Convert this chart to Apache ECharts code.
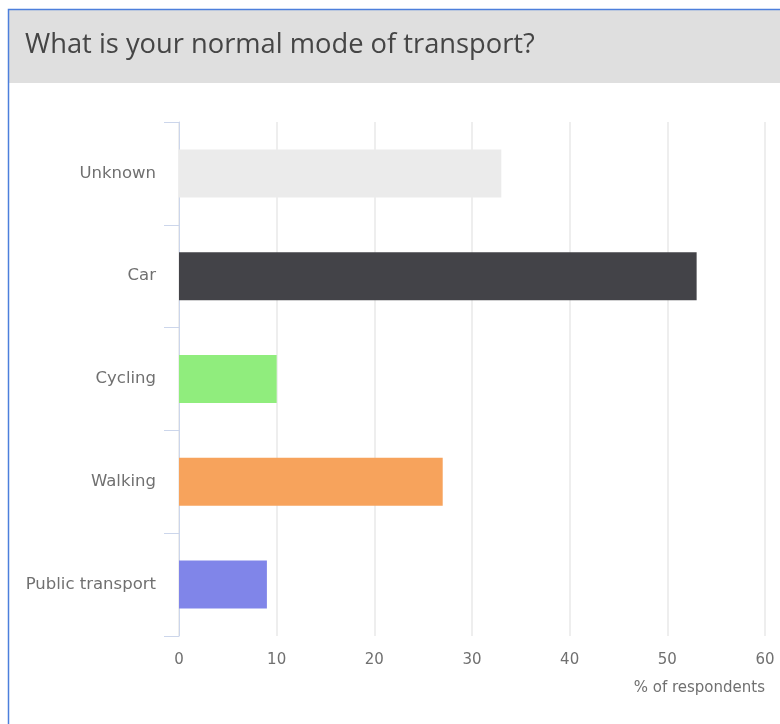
<!DOCTYPE html>
<html>
<head>
<meta charset="utf-8">
<style>
  html, body { margin: 0; padding: 0; background: #ffffff; }
  #chart { width: 780px; height: 724px; }
</style>
<script src="https://cdn.jsdelivr.net/npm/echarts@6/dist/echarts.min.js"></script>
</head>
<body>
<div id="chart"></div>
<script>
const titleText = 'What is your normal mode of transport?';
const categories = ['Unknown', 'Car', 'Cycling', 'Walking', 'Public transport'];
const values = [33, 53, 10, 27, 9];
const barColors = ['#ebebeb', '#434348', '#90ed7d', '#f7a35c', '#8085e9'];
const axisName = '% of respondents';
const xMin = 0, xMax = 60, xStep = 10;

const chart = echarts.init(document.getElementById('chart'));
const option = {
  animation: false,
  backgroundColor: '#ffffff',
  graphic: [
    { type: 'rect', shape: { x: 9, y: 10, width: 771, height: 73 }, style: { fill: '#dfdfdf' }, z: 0 },
    { type: 'rect', shape: { x: 8.5, y: 9.5, width: 800, height: 800 }, style: { fill: 'none', stroke: '#4d7fdc', lineWidth: 1.5 }, z: 1 },
    { type: 'text', left: 25, top: 32, style: { text: titleText, fill: '#454545', font: '27.3px "Open Sans"', textVerticalAlign: 'top' }, z: 2 }
  ],
  grid: { left: 179, right: 15, top: 122, bottom: 88, containLabel: false },
  xAxis: {
    type: 'value', min: xMin, max: xMax, interval: xStep,
    axisLine: { show: false }, axisTick: { show: false },
    splitLine: { show: true, lineStyle: { color: '#e8e8e8', width: 1.5 } },
    axisLabel: { color: '#707070', fontFamily: 'DejaVu Sans', fontSize: 15, margin: 17 },
    name: axisName, nameLocation: 'end', nameGap: 0,
    nameTextStyle: { color: '#707070', fontFamily: 'DejaVu Sans', fontSize: 15, align: 'right', verticalAlign: 'top', padding: [45, 0, 0, 0] }
  },
  yAxis: {
    type: 'category', data: categories, inverse: true,
    axisLine: { show: true, lineStyle: { color: '#ccd6eb', width: 1 } },
    axisTick: { show: true, length: 15, lineStyle: { color: '#ccd6eb' } },
    axisLabel: { color: '#707070', fontFamily: 'DejaVu Sans', fontSize: 16.5, margin: 23 },
    splitLine: { show: false }
  },
  series: [{
    type: 'bar', barWidth: 48,
    data: values.map((v, i) => ({ value: v, itemStyle: { color: barColors[i] } }))
  }]
};
chart.setOption(option);
</script>
</body>
</html>
